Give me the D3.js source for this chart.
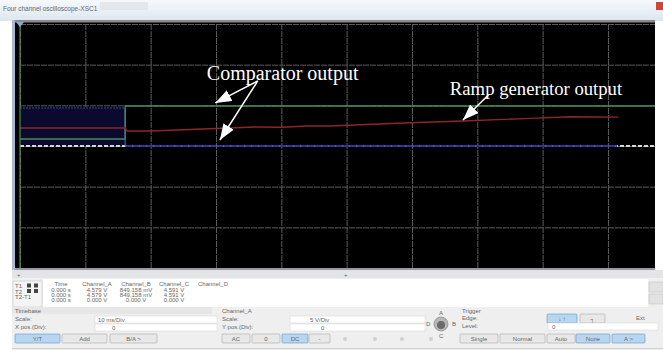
<!DOCTYPE html>
<html>
<head>
<meta charset="utf-8">
<script src="https://cdn.jsdelivr.net/npm/d3@7"></script>
<style>
  body { margin: 0; background: #fff; }
  svg { display: block; }
  .ui { font-family: "Liberation Sans", "DejaVu Sans", sans-serif; font-size: 6px; fill: #666; }
</style>
</head>
<body>
<div id="scope"></div>
<script>
// time axis in ms (10 ms/Div), voltage in V (5 V/Div)
const xTicks = [0, 10, 20, 30, 40, 50, 60, 70, 80, 90];
const yTicks = [-15, -10, -5, 0, 5, 10, 15];

// ramp generator output (red)
const rampT = [0, 16.1, 16.4, 20, 30, 36, 40, 44, 47.5, 57.7, 67.8, 78.1, 84.2, 91.6];
const rampV = [2.21, 2.21, 1.84, 1.84, 2.15, 2.33, 2.30, 2.46, 2.46, 2.79, 3.07, 3.40, 3.60, 3.55];

// comparator outputs (green, blue)
const greenT = [0, 16.1, 16.1, 97.2];
const greenV = [0.86, 0.86, 4.91, 4.91];
const blueT = [0, 16.1, 16.1, 91.4];
const blueV = [4.67, 4.67, 0, 0];

// channel D / ground reference (white dashed)
const groundT = [0, 97.2];
const groundV = [0, 0];

// cursor readout table
const colNames = ["Time", "Channel_A", "Channel_B", "Channel_C", "Channel_D"];
const rowNames = ["T1", "T2", "T2-T1"];
const readings = [
  ["0.000 s", "4.579 V", "849.158 mV", "4.591 V", ""],
  ["0.000 s", "4.579 V", "849.158 mV", "4.591 V", ""],
  ["0.000 s", "0.000 V", "0.000 V", "0.000 V", ""]
];

const W = 663, H = 361;
const svg = d3.select("#scope").append("svg")
  .attr("width", W).attr("height", H);

// window chrome
const grad = svg.append("defs").append("linearGradient")
  .attr("id", "titleGrad").attr("x1", 0).attr("x2", 0).attr("y1", 0).attr("y2", 1);
grad.append("stop").attr("offset", 0).attr("stop-color", "#f6f9fc");
grad.append("stop").attr("offset", 1).attr("stop-color", "#dde6ef");
svg.append("rect").attr("width", W).attr("height", 21).attr("fill", "url(#titleGrad)");
svg.append("rect").attr("x", 100).attr("y", 2).attr("width", 48).attr("height", 8).attr("fill", "#e3e6ea");
svg.append("text").attr("class", "ui").attr("x", 3).attr("y", 11)
  .style("font-size", "6.5px").text("Four channel oscilloscope-XSC1");
svg.append("rect").attr("x", 656).attr("y", 2).attr("width", 7).attr("height", 8).attr("fill", "#c8463c");

// scope screen
const scrL = 20, scrR = 655, scrT = 24, scrB = 268;
svg.append("rect").attr("x", 12).attr("y", 20).attr("width", 4).attr("height", 250).attr("fill", "#a9b9d2");
svg.append("rect").attr("x", 15).attr("y", 21).attr("width", scrR - 15).attr("height", scrB - 21).attr("fill", "#000");
svg.append("rect").attr("x", 15).attr("y", 20).attr("width", scrR - 15).attr("height", 2.5).attr("fill", "#8c8c8c");

const x = d3.scaleLinear().domain([0, 97.2]).range([scrL, scrR]);
const y = d3.scaleLinear().domain([-15, 15]).range([scrB, scrT]);

// grid through axes
const gridX = svg.append("g").attr("transform", `translate(0,${scrB})`)
  .call(d3.axisBottom(x).tickValues(xTicks).tickSize(-(scrB - scrT)).tickFormat(""));
const gridY = svg.append("g").attr("transform", `translate(${scrL},0)`)
  .call(d3.axisLeft(y).tickValues(yTicks).tickSize(-(scrR - scrL)).tickFormat(""));
[gridX, gridY].forEach(g => {
  g.select(".domain").remove();
  g.selectAll(".tick line").attr("stroke", "#5c5c5c").attr("stroke-width", 1)
    .attr("stroke-dasharray", "6,1");
});

const line = (ts, vs, idx) => d3.line().x(i => x(ts[i])).y(i => y(vs[i]))(idx || d3.range(ts.length));

// dense square wave segment of blue channel
svg.append("path")
  .attr("d", d3.area().x(i => x(blueT[i])).y0(y(0)).y1(i => y(blueV[i]))([0, 1]))
  .attr("fill", "#0a0a2e");

svg.append("path").attr("d", line(groundT, groundV))
  .attr("fill", "none").attr("stroke", "#d6d6d6").attr("stroke-width", 1.8)
  .attr("stroke-dasharray", "4,2");

svg.append("path").attr("d", line(greenT, greenV))
  .attr("fill", "none").attr("stroke", "#4a8a58").attr("stroke-width", 1.4);

// blue: high part dim and dotted, low part brighter
svg.append("path").attr("d", line(blueT, blueV, [0, 1]))
  .attr("fill", "none").attr("stroke", "#2e2e8c").attr("stroke-width", 1.4)
  .attr("stroke-dasharray", "2,1");
svg.append("path").attr("d", line(blueT, blueV, [1, 2]))
  .attr("fill", "none").attr("stroke", "#4f6fa8").attr("stroke-width", 1);
svg.append("path").attr("d", line(blueT, blueV, [2, 3]))
  .attr("fill", "none").attr("stroke", "#33339a").attr("stroke-width", 2);
svg.append("path").attr("d", line(blueT, blueV, [2, 3]))
  .attr("fill", "none").attr("stroke", "#8080e0").attr("stroke-width", 1)
  .attr("stroke-dasharray", "1,6");

svg.append("path").attr("d", line(rampT, rampV))
  .attr("fill", "none").attr("stroke", "#8e2626").attr("stroke-width", 1.4);

// cursor T1/T2 at t = 0
svg.append("line").attr("x1", x(0)).attr("x2", x(0)).attr("y1", 22).attr("y2", scrB)
  .attr("stroke", "#4d8a4d").attr("stroke-width", 1.2);
svg.append("path").attr("d", `M${x(0) - 4},22 L${x(0) + 4},22 L${x(0)},27 Z`).attr("fill", "#8fa8d8");

// annotations
const labels = [
  {text: "Comparator output", t: 28.6, v: 8.1},
  {text: "Ramp generator output", t: 65.8, v: 6.27}
];
const arrows = [
  [36.4, 8.0, 29.9, 5.3],
  [36.4, 8.0, 30.6, 0.74],
  [71.7, 6.27, 67.8, 3.19]
];
svg.append("defs").append("marker")
  .attr("id", "head").attr("viewBox", "0 0 16 12").attr("refX", 16).attr("refY", 6)
  .attr("markerWidth", 16).attr("markerHeight", 12).attr("markerUnits", "userSpaceOnUse")
  .attr("orient", "auto")
  .append("path").attr("d", "M0,0 L16,6 L0,12 Z").attr("fill", "#fff");

svg.selectAll(".arrow").data(arrows).enter().append("line")
  .attr("x1", d => x(d[0])).attr("y1", d => y(d[1]))
  .attr("x2", d => x(d[2])).attr("y2", d => y(d[3]))
  .attr("stroke", "#fff").attr("stroke-width", 1.5)
  .attr("marker-end", "url(#head)");

svg.selectAll(".label").data(labels).enter().append("text")
  .attr("x", d => x(d.t)).attr("y", d => y(d.v))
  .attr("fill", "#fff")
  .style("font-family", "'Liberation Serif', 'Times New Roman', serif")
  .style("font-size", (d, i) => i === 0 ? "20px" : "18.7px")
  .text(d => d.text);

// bottom border and scroll strip
svg.append("rect").attr("x", 15).attr("y", scrB).attr("width", scrR - 15).attr("height", 2).attr("fill", "#9a9a9a");
svg.append("rect").attr("x", 12).attr("y", 270).attr("width", 651).attr("height", 8).attr("fill", "#e2e4e7");
svg.append("text").attr("class", "ui").attr("x", 17).attr("y", 277).text("+");
svg.append("text").attr("class", "ui").attr("x", 344).attr("y", 277).text("+");

// control panel
svg.append("rect").attr("x", 12).attr("y", 278).attr("width", 651).attr("height", 72).attr("fill", "#efefef");
svg.append("rect").attr("x", 43).attr("y", 279).attr("width", 605).attr("height", 28).attr("fill", "#fff");
svg.append("rect").attr("x", 13).attr("y", 281).attr("width", 29).attr("height", 26)
  .attr("fill", "#f4f4f4").attr("stroke", "#c8c8c8").attr("stroke-width", 0.6);
svg.append("rect").attr("x", 649).attr("y", 282).attr("width", 14).attr("height", 10).attr("fill", "#e2e2e2").attr("stroke", "#bbb").attr("stroke-width", 0.5);
svg.append("rect").attr("x", 649).attr("y", 294).attr("width", 14).attr("height", 10).attr("fill", "#e2e2e2").attr("stroke", "#bbb").attr("stroke-width", 0.5);

const colX = [61, 97, 136, 174, 213];
svg.selectAll(".colName").data(colNames).enter().append("text")
  .attr("class", "ui").attr("x", (d, i) => colX[i]).attr("y", 286)
  .attr("text-anchor", "middle").text(d => d);
rowNames.forEach((r, ri) => {
  const by = 288 + ri * 5.5;
  svg.append("text").attr("class", "ui").attr("x", 15).attr("y", by).text(r);
  if (ri < 2) {
    svg.append("rect").attr("x", 27).attr("y", by - 4.5).attr("width", 4).attr("height", 4).attr("fill", "#444");
    svg.append("rect").attr("x", 34).attr("y", by - 4.5).attr("width", 4).attr("height", 4).attr("fill", "#444");
  }
  readings[ri].forEach((v, ci) => {
    svg.append("text").attr("class", "ui").attr("x", colX[ci]).attr("y", 291.5 + ri * 5)
      .attr("text-anchor", "middle").text(v);
  });
});

function label(lx, ly, t) {
  svg.append("text").attr("class", "ui").attr("x", lx).attr("y", ly).text(t);
}
function input(ix, iy, w, t, tx) {
  svg.append("rect").attr("x", ix).attr("y", iy).attr("width", w).attr("height", 7)
    .attr("fill", "#fff").attr("stroke", "#d4d4d4").attr("stroke-width", 0.5);
  svg.append("text").attr("class", "ui").attr("x", tx).attr("y", iy + 5.5).text(t);
}
function button(bx, by, w, t, active) {
  svg.append("rect").attr("x", bx).attr("y", by).attr("width", w).attr("height", 9).attr("rx", 1)
    .attr("fill", active ? "#b9d6f0" : "#e8e8e8")
    .attr("stroke", active ? "#5b93c9" : "#a8a8a8").attr("stroke-width", 0.6);
  svg.append("text").attr("class", "ui").attr("x", bx + w / 2).attr("y", by + 6.5)
    .attr("text-anchor", "middle").text(t);
}

// timebase
svg.append("rect").attr("x", 12).attr("y", 307).attr("width", 200).attr("height", 7).attr("fill", "#e6e6e6");
label(15, 313, "Timebase");
label(15, 321, "Scale:");
input(95, 316, 122, "10 ms/Div", 98);
label(15, 329, "X pos.(Div):");
input(95, 324, 122, "0", 112);
button(15, 334, 45, "Y/T", true);
button(62, 334, 45, "Add", false);
button(110, 334, 47, "B/A >", false);

// channel A
label(222, 313, "Channel_A");
label(222, 321, "Scale:");
input(290, 316, 135, "5 V/Div", 310);
label(222, 329, "Y pos.(Div):");
input(290, 324, 135, "0", 321);
button(222, 334, 28, "AC", false);
button(252, 334, 28, "0", false);
button(282, 334, 26, "DC", true);
button(309, 334, 21, "-", false);
[345, 375, 402, 431].forEach(cx => {
  svg.append("circle").attr("cx", cx).attr("cy", 339).attr("r", 2).attr("fill", "#cfcfcf");
});
svg.append("circle").attr("cx", 441).attr("cy", 324).attr("r", 7).attr("fill", "#b8b8b8").attr("stroke", "#777").attr("stroke-width", 0.6);
svg.append("circle").attr("cx", 441).attr("cy", 325).attr("r", 4).attr("fill", "#6a6a6a");
label(439, 315, "A");
label(452, 326, "B");
label(439, 338, "C");
label(426, 326, "D");

// trigger
label(462, 313, "Trigger");
label(462, 320, "Edge:");
label(462, 328, "Level:");
button(547, 314, 30, "\u2193 \u2191", true);
button(580, 314, 25, "\u2510", false);
label(636, 320, "Ext");
input(548, 323, 110, "0", 552);
button(460, 334, 38, "Single", false);
button(500, 334, 45, "Normal", false);
button(547, 334, 28, "Auto", false);
button(576, 334, 34, "None", true);
button(612, 334, 33, "A >", true);
svg.append("rect").attr("x", 12).attr("y", 348).attr("width", 651).attr("height", 1).attr("fill", "#cfcfcf");
</script>
</body>
</html>
